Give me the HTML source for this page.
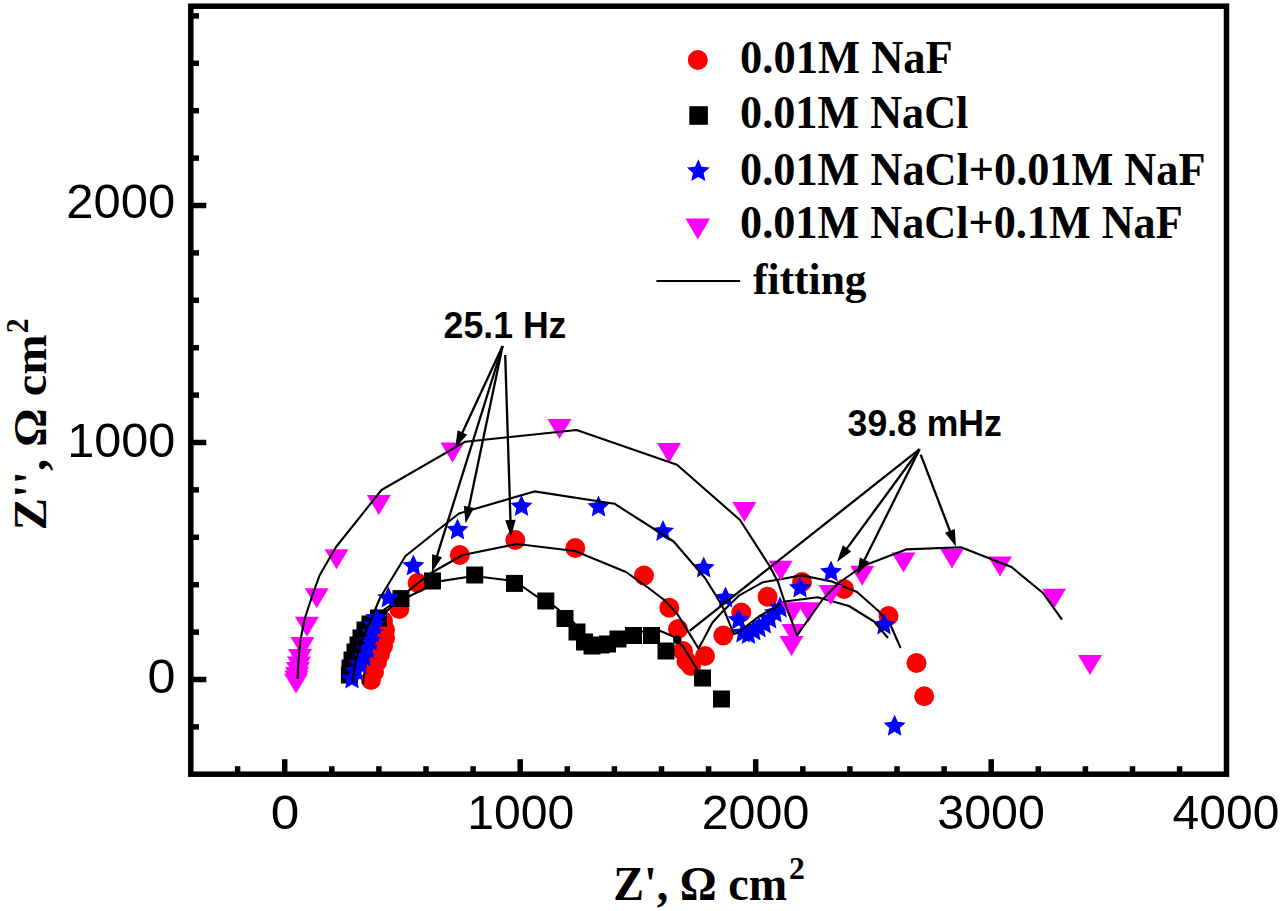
<!DOCTYPE html>
<html><head><meta charset="utf-8"><title>Nyquist plot</title><style>html,body{margin:0;padding:0;background:#fff;overflow:hidden}svg{display:block}</style></head><body>
<svg width="1280" height="911" viewBox="0 0 1280 911">
<rect x="0" y="0" width="1280" height="911" fill="#fff"/>
<g fill="#ff0000"><circle cx="371" cy="680" r="10"/><circle cx="374" cy="672" r="10"/><circle cx="377" cy="662" r="10"/><circle cx="380" cy="654" r="10"/><circle cx="383" cy="646" r="10"/><circle cx="385" cy="638" r="10"/><circle cx="385" cy="630" r="10"/><circle cx="383" cy="621" r="10"/><circle cx="399.3" cy="609" r="10"/><circle cx="417.6" cy="583" r="10"/><circle cx="459.8" cy="555" r="10"/><circle cx="515.3" cy="540" r="10"/><circle cx="575.3" cy="548" r="10"/><circle cx="644" cy="575.5" r="10"/><circle cx="669.3" cy="607.7" r="10"/><circle cx="678" cy="629" r="10"/><circle cx="683" cy="651" r="10"/><circle cx="686.5" cy="661" r="10"/><circle cx="691" cy="666" r="10"/><circle cx="705" cy="656" r="10"/><circle cx="723.3" cy="635.5" r="10"/><circle cx="741.3" cy="612.5" r="10"/><circle cx="767.6" cy="596.7" r="10"/><circle cx="802" cy="582" r="10"/><circle cx="844" cy="589" r="10"/><circle cx="888.5" cy="616" r="10"/><circle cx="916.5" cy="663" r="10"/><circle cx="924.2" cy="696.3" r="10"/></g>
<polyline fill="none" stroke="#000" stroke-width="2.1" stroke-linejoin="round" points="363,684 365,668 369,650 375,632 385,613 403.5,594.6 431,573 462.8,555 517,544 575,551 626,572 648.5,588 664.3,600 677.5,614.3 688,631.4 698.5,648.5 704.4,637.7 712.3,622.8 721.2,613 739.3,595.3 763,582.2 778.8,579.5 801.5,575.4 832,581.5 857,592 878.5,611 891,626 900.6,648"/>
<g fill="#000"><rect x="340.9" y="666.5" width="17" height="17"/><rect x="341.5" y="659.5" width="17" height="17"/><rect x="343.5" y="651.5" width="17" height="17"/><rect x="346.5" y="643.5" width="17" height="17"/><rect x="349.5" y="636.5" width="17" height="17"/><rect x="352.5" y="629.5" width="17" height="17"/><rect x="356.5" y="621.5" width="17" height="17"/><rect x="361.5" y="615.5" width="17" height="17"/><rect x="370" y="609.5" width="17" height="17"/><rect x="392.5" y="590.1" width="17" height="17"/><rect x="424" y="572.5" width="17" height="17"/><rect x="466.2" y="566.5" width="17" height="17"/><rect x="506" y="574.9" width="17" height="17"/><rect x="537.3" y="592.5" width="17" height="17"/><rect x="556.5" y="610" width="17" height="17"/><rect x="568.5" y="623.5" width="17" height="17"/><rect x="576" y="633.5" width="17" height="17"/><rect x="583.5" y="637.5" width="17" height="17"/><rect x="592.5" y="636.5" width="17" height="17"/><rect x="599" y="635.5" width="17" height="17"/><rect x="609.5" y="630.5" width="17" height="17"/><rect x="625" y="627" width="17" height="17"/><rect x="643" y="627" width="17" height="17"/><rect x="657.5" y="642.5" width="17" height="17"/><rect x="694" y="669.5" width="17" height="17"/><rect x="713" y="690.5" width="17" height="17"/></g>
<polyline fill="none" stroke="#000" stroke-width="2.1" stroke-linejoin="round" points="350,680 353,662 358,645 366,628 378,614 392,604 407.4,597.3 439,581.4 474,576 514.5,581 537,596.6 556,607.5 573,621.6 585,637 600,644 620,638 640,632 657,629.5 673.8,636.7 683.7,647.5 694.6,665.3 697,669"/>
<g fill="#0000ff"><polygon points="352,667.4 355.23,674.55 363.03,675.42 357.23,680.7 358.82,688.38 352,684.5 345.18,688.38 346.77,680.7 340.97,675.42 348.77,674.55"/><polygon points="356,659.4 359.23,666.55 367.03,667.42 361.23,672.7 362.82,680.38 356,676.5 349.18,680.38 350.77,672.7 344.97,667.42 352.77,666.55"/><polygon points="360,652.4 363.23,659.55 371.03,660.42 365.23,665.7 366.82,673.38 360,669.5 353.18,673.38 354.77,665.7 348.97,660.42 356.77,659.55"/><polygon points="364,645.4 367.23,652.55 375.03,653.42 369.23,658.7 370.82,666.38 364,662.5 357.18,666.38 358.77,658.7 352.97,653.42 360.77,652.55"/><polygon points="367,637.4 370.23,644.55 378.03,645.42 372.23,650.7 373.82,658.38 367,654.5 360.18,658.38 361.77,650.7 355.97,645.42 363.77,644.55"/><polygon points="370,629.4 373.23,636.55 381.03,637.42 375.23,642.7 376.82,650.38 370,646.5 363.18,650.38 364.77,642.7 358.97,637.42 366.77,636.55"/><polygon points="372,621.4 375.23,628.55 383.03,629.42 377.23,634.7 378.82,642.38 372,638.5 365.18,642.38 366.77,634.7 360.97,629.42 368.77,628.55"/><polygon points="374,613.4 377.23,620.55 385.03,621.42 379.23,626.7 380.82,634.38 374,630.5 367.18,634.38 368.77,626.7 362.97,621.42 370.77,620.55"/><polygon points="376,606.4 379.23,613.55 387.03,614.42 381.23,619.7 382.82,627.38 376,623.5 369.18,627.38 370.77,619.7 364.97,614.42 372.77,613.55"/><polygon points="388.3,586.4 391.53,593.55 399.33,594.42 393.53,599.7 395.12,607.38 388.3,603.5 381.48,607.38 383.07,599.7 377.27,594.42 385.07,593.55"/><polygon points="413.4,554.4 416.63,561.55 424.43,562.42 418.63,567.7 420.22,575.38 413.4,571.5 406.58,575.38 408.17,567.7 402.37,562.42 410.17,561.55"/><polygon points="457.5,518.4 460.73,525.55 468.53,526.42 462.73,531.7 464.32,539.38 457.5,535.5 450.68,539.38 452.27,531.7 446.47,526.42 454.27,525.55"/><polygon points="521.5,494.9 524.73,502.05 532.53,502.92 526.73,508.2 528.32,515.88 521.5,512 514.68,515.88 516.27,508.2 510.47,502.92 518.27,502.05"/><polygon points="598.5,495.4 601.73,502.55 609.53,503.42 603.73,508.7 605.32,516.38 598.5,512.5 591.68,516.38 593.27,508.7 587.47,503.42 595.27,502.55"/><polygon points="663,519.9 666.23,527.05 674.03,527.92 668.23,533.2 669.82,540.88 663,537 656.18,540.88 657.77,533.2 651.97,527.92 659.77,527.05"/><polygon points="703.7,556.4 706.93,563.55 714.73,564.42 708.93,569.7 710.52,577.38 703.7,573.5 696.88,577.38 698.47,569.7 692.67,564.42 700.47,563.55"/><polygon points="725.5,586.4 728.73,593.55 736.53,594.42 730.73,599.7 732.32,607.38 725.5,603.5 718.68,607.38 720.27,599.7 714.47,594.42 722.27,593.55"/><polygon points="738.6,608.4 741.83,615.55 749.63,616.42 743.83,621.7 745.42,629.38 738.6,625.5 731.78,629.38 733.37,621.7 727.57,616.42 735.37,615.55"/><polygon points="743,621.4 746.23,628.55 754.03,629.42 748.23,634.7 749.82,642.38 743,638.5 736.18,642.38 737.77,634.7 731.97,629.42 739.77,628.55"/><polygon points="748.5,622.9 751.73,630.05 759.53,630.92 753.73,636.2 755.32,643.88 748.5,640 741.68,643.88 743.27,636.2 737.47,630.92 745.27,630.05"/><polygon points="753.8,619.4 757.03,626.55 764.83,627.42 759.03,632.7 760.62,640.38 753.8,636.5 746.98,640.38 748.57,632.7 742.77,627.42 750.57,626.55"/><polygon points="759,616.4 762.23,623.55 770.03,624.42 764.23,629.7 765.82,637.38 759,633.5 752.18,637.38 753.77,629.7 747.97,624.42 755.77,623.55"/><polygon points="764.3,612.4 767.53,619.55 775.33,620.42 769.53,625.7 771.12,633.38 764.3,629.5 757.48,633.38 759.07,625.7 753.27,620.42 761.07,619.55"/><polygon points="769.6,607.4 772.83,614.55 780.63,615.42 774.83,620.7 776.42,628.38 769.6,624.5 762.78,628.38 764.37,620.7 758.57,615.42 766.37,614.55"/><polygon points="775,601.4 778.23,608.55 786.03,609.42 780.23,614.7 781.82,622.38 775,618.5 768.18,622.38 769.77,614.7 763.97,609.42 771.77,608.55"/><polygon points="780,596.4 783.23,603.55 791.03,604.42 785.23,609.7 786.82,617.38 780,613.5 773.18,617.38 774.77,609.7 768.97,604.42 776.77,603.55"/><polygon points="800,576.4 803.23,583.55 811.03,584.42 805.23,589.7 806.82,597.38 800,593.5 793.18,597.38 794.77,589.7 788.97,584.42 796.77,583.55"/><polygon points="831,560.4 834.23,567.55 842.03,568.42 836.23,573.7 837.82,581.38 831,577.5 824.18,581.38 825.77,573.7 819.97,568.42 827.77,567.55"/><polygon points="884,613.4 887.23,620.55 895.03,621.42 889.23,626.7 890.82,634.38 884,630.5 877.18,634.38 878.77,626.7 872.97,621.42 880.77,620.55"/><polygon points="894.6,714.7 897.83,721.85 905.63,722.72 899.83,728 901.42,735.68 894.6,731.8 887.78,735.68 889.37,728 883.57,722.72 891.37,721.85"/></g>
<polyline fill="none" stroke="#000" stroke-width="2.1" stroke-linejoin="round" points="352,683 356,660 362,640 370,622 380,598 405.5,556 445.6,524 459,513.5 534.4,491.4 614.4,503.7 673.7,541.5 705,578 715.6,595 723.5,608.5 728.7,621.7 734,634 738,632.5 759,616.4 785,601.5 817.6,597.3 849,606 874,621.5 888,638"/>
<g fill="#ff00ff"><polygon points="290.5,637 314.5,637 302.5,657"/><polygon points="288,649 312,649 300,669"/><polygon points="287,656.5 311,656.5 299,676.5"/><polygon points="286,662 310,662 298,682"/><polygon points="285,667 309,667 297,687"/><polygon points="284.5,670.5 308.5,670.5 296.5,690.5"/><polygon points="284,673.5 308,673.5 296,693.5"/><polygon points="294.9,616.8 318.9,616.8 306.9,636.8"/><polygon points="304.7,588.2 328.7,588.2 316.7,608.2"/><polygon points="324.5,549.2 348.5,549.2 336.5,569.2"/><polygon points="366.8,495 390.8,495 378.8,515"/><polygon points="440.4,442.5 464.4,442.5 452.4,462.5"/><polygon points="547.5,419 571.5,419 559.5,439"/><polygon points="657,443 681,443 669,463"/><polygon points="732.4,502 756.4,502 744.4,522"/><polygon points="768.7,560.7 792.7,560.7 780.7,580.7"/><polygon points="780.5,602.3 804.5,602.3 792.5,622.3"/><polygon points="796.5,602.3 820.5,602.3 808.5,622.3"/><polygon points="781.5,624 805.5,624 793.5,644"/><polygon points="779.5,636 803.5,636 791.5,656"/><polygon points="818.7,585 842.7,585 830.7,605"/><polygon points="850.2,565.7 874.2,565.7 862.2,585.7"/><polygon points="891.5,552.5 915.5,552.5 903.5,572.5"/><polygon points="940,548.4 964,548.4 952,568.4"/><polygon points="988,556.5 1012,556.5 1000,576.5"/><polygon points="1042,588.8 1066,588.8 1054,608.8"/><polygon points="1078,655 1102,655 1090,675"/></g>
<polyline fill="none" stroke="#000" stroke-width="2.1" stroke-linejoin="round" points="297.5,679 298.5,660 300.5,640 304.6,619 312.5,595 319.5,575.5 336,547 381.5,490 465.3,441.7 576.6,430 677,464.7 740,520 769.6,566 778,582 785,603 797,635.5 809,618.5 823,599 838.5,583 863,566 906,549.4 961,547.2 1011.4,567 1043.3,593.3 1062,619.6"/>
<g stroke="#000" stroke-width="2.3" fill="#000"><line x1="502.6" y1="346" x2="461.52" y2="434.4"/><polygon stroke="none" points="455.2,448 457.6,430.37 467.13,434.8"/><line x1="502.6" y1="346" x2="436.47" y2="557.68"/><polygon stroke="none" points="432,572 432.06,554.21 442.08,557.34"/><line x1="502.6" y1="346" x2="468.57" y2="508.82"/><polygon stroke="none" points="465.5,523.5 463.84,505.79 474.12,507.93"/><line x1="505.2" y1="355" x2="510.52" y2="522.01"/><polygon stroke="none" points="511,537 505.21,520.18 515.71,519.84"/><line x1="919.6" y1="449.2" x2="845.86" y2="549.9"/><polygon stroke="none" points="837,562 842.81,545.18 851.28,551.39"/><line x1="919.6" y1="449.2" x2="863.68" y2="561.57"/><polygon stroke="none" points="857,575 859.87,557.44 869.27,562.12"/><line x1="920.7" y1="454.6" x2="950.64" y2="532.79"/><polygon stroke="none" points="956,546.8 945.02,532.8 954.82,529.05"/><line x1="919.6" y1="449.2" x2="689.6" y2="630.8"/></g>
<circle cx="677.3" cy="639.7" r="4.3" fill="#000"/>
<rect x="190.8" y="6.2" width="1035.7" height="768" fill="none" stroke="#000" stroke-width="5.5"/>
<g stroke="#000" stroke-width="5.5"><line x1="190.8" y1="726.9" x2="199" y2="726.9"/><line x1="190.8" y1="679.5" x2="206.3" y2="679.5"/><line x1="190.8" y1="632.1" x2="199" y2="632.1"/><line x1="190.8" y1="584.7" x2="199" y2="584.7"/><line x1="190.8" y1="537.3" x2="199" y2="537.3"/><line x1="190.8" y1="489.9" x2="199" y2="489.9"/><line x1="190.8" y1="442.5" x2="206.3" y2="442.5"/><line x1="190.8" y1="395.1" x2="199" y2="395.1"/><line x1="190.8" y1="347.7" x2="199" y2="347.7"/><line x1="190.8" y1="300.3" x2="199" y2="300.3"/><line x1="190.8" y1="252.9" x2="199" y2="252.9"/><line x1="190.8" y1="205.5" x2="206.3" y2="205.5"/><line x1="190.8" y1="158.1" x2="199" y2="158.1"/><line x1="190.8" y1="110.7" x2="199" y2="110.7"/><line x1="190.8" y1="63.3" x2="199" y2="63.3"/><line x1="190.8" y1="15.9" x2="199" y2="15.9"/><line x1="237.6" y1="774.2" x2="237.6" y2="766.2"/><line x1="284.7" y1="774.2" x2="284.7" y2="759.2"/><line x1="331.8" y1="774.2" x2="331.8" y2="766.2"/><line x1="378.9" y1="774.2" x2="378.9" y2="766.2"/><line x1="426" y1="774.2" x2="426" y2="766.2"/><line x1="473.1" y1="774.2" x2="473.1" y2="766.2"/><line x1="520.2" y1="774.2" x2="520.2" y2="759.2"/><line x1="567.3" y1="774.2" x2="567.3" y2="766.2"/><line x1="614.4" y1="774.2" x2="614.4" y2="766.2"/><line x1="661.5" y1="774.2" x2="661.5" y2="766.2"/><line x1="708.6" y1="774.2" x2="708.6" y2="766.2"/><line x1="755.7" y1="774.2" x2="755.7" y2="759.2"/><line x1="802.8" y1="774.2" x2="802.8" y2="766.2"/><line x1="849.9" y1="774.2" x2="849.9" y2="766.2"/><line x1="897" y1="774.2" x2="897" y2="766.2"/><line x1="944.1" y1="774.2" x2="944.1" y2="766.2"/><line x1="991.2" y1="774.2" x2="991.2" y2="759.2"/><line x1="1038.3" y1="774.2" x2="1038.3" y2="766.2"/><line x1="1085.4" y1="774.2" x2="1085.4" y2="766.2"/><line x1="1132.5" y1="774.2" x2="1132.5" y2="766.2"/><line x1="1179.6" y1="774.2" x2="1179.6" y2="766.2"/></g>
<text transform="matrix(1.0194 0 0 1.0061 66.36 218.40)" style="font-family:&quot;Liberation Sans&quot;,sans-serif;font-size:48px;font-variant-ligatures:none">2000</text>
<text transform="matrix(1.0114 0 0 1.0076 67.20 457.00)" style="font-family:&quot;Liberation Sans&quot;,sans-serif;font-size:48px;font-variant-ligatures:none">1000</text>
<text transform="matrix(1.0478 0 0 0.9970 147.40 693.10)" style="font-family:&quot;Liberation Sans&quot;,sans-serif;font-size:48px;font-variant-ligatures:none">0</text>
<text transform="matrix(1.0696 0 0 0.9939 270.76 829.20)" style="font-family:&quot;Liberation Sans&quot;,sans-serif;font-size:48px;font-variant-ligatures:none">0</text>
<text transform="matrix(1.0025 0 0 1.0091 467.24 829.10)" style="font-family:&quot;Liberation Sans&quot;,sans-serif;font-size:48px;font-variant-ligatures:none">1000</text>
<text transform="matrix(1.0087 0 0 1.0121 701.68 829.30)" style="font-family:&quot;Liberation Sans&quot;,sans-serif;font-size:48px;font-variant-ligatures:none">2000</text>
<text transform="matrix(1.0087 0 0 1.0121 937.28 829.30)" style="font-family:&quot;Liberation Sans&quot;,sans-serif;font-size:48px;font-variant-ligatures:none">3000</text>
<text transform="matrix(1.0000 0 0 1.0091 1172.60 829.10)" style="font-family:&quot;Liberation Sans&quot;,sans-serif;font-size:48px;font-variant-ligatures:none">4000</text>
<text transform="matrix(0.9766 0 0 1.0100 443.62 338.30)" style="font-family:&quot;Liberation Sans&quot;,sans-serif;font-size:36.5px;font-weight:bold;font-variant-ligatures:none">25.1 Hz</text>
<text transform="matrix(0.9750 0 0 1.0100 847.62 435.90)" style="font-family:&quot;Liberation Sans&quot;,sans-serif;font-size:36.5px;font-weight:bold;font-variant-ligatures:none">39.8 mHz</text>
<text transform="matrix(0.9220 0 0 0.9788 613.26 899.80)" style="font-family:&quot;Liberation Serif&quot;,serif;font-size:50px;font-weight:bold;font-variant-ligatures:none">Z&#39;, &#937; cm</text>
<text transform="matrix(1.0231 0 0 1.0238 788.88 879.30)" style="font-family:&quot;Liberation Serif&quot;,serif;font-size:31px;font-weight:bold;font-variant-ligatures:none">2</text>
<text transform="matrix(1.0007 0 0 1.0207 740.10 73.40)" style="font-family:&quot;Liberation Serif&quot;,serif;font-size:44.5px;font-weight:bold;font-variant-ligatures:none">0.01M NaF</text>
<text transform="matrix(0.9930 0 0 1.0207 740.11 128.30)" style="font-family:&quot;Liberation Serif&quot;,serif;font-size:44.5px;font-weight:bold;font-variant-ligatures:none">0.01M NaCl</text>
<text transform="matrix(0.9949 0 0 1.0207 740.11 184.60)" style="font-family:&quot;Liberation Serif&quot;,serif;font-size:44.5px;font-weight:bold;font-variant-ligatures:none">0.01M NaCl+0.01M NaF</text>
<text transform="matrix(0.9936 0 0 1.0207 740.11 238.00)" style="font-family:&quot;Liberation Serif&quot;,serif;font-size:44.5px;font-weight:bold;font-variant-ligatures:none">0.01M NaCl+0.1M NaF</text>
<text transform="matrix(0.9767 0 0 1.0000 753.10 293.60)" style="font-family:&quot;Liberation Serif&quot;,serif;font-size:44.5px;font-weight:bold;font-variant-ligatures:none">fitting</text>
<g transform="translate(45.50 528.30) rotate(-90)"><text transform="matrix(0.9670 0 0 0.9303 -1.93 0.00)" style="font-family:&quot;Liberation Serif&quot;,serif;font-size:50px;font-weight:bold">Z&#39;&#39;, &#937; cm</text></g>
<g transform="translate(27.70 332.30) rotate(-90)"><text transform="matrix(0.9615 0 0 1.0381 -0.96 0.00)" style="font-family:&quot;Liberation Serif&quot;,serif;font-size:31px;font-weight:bold">2</text></g>
<circle cx="697.8" cy="60" r="10" fill="#ff0000"/><rect x="689.3" y="106.2" width="18.6" height="18.6" fill="#000"/><polygon fill="#0000ff" points="698.3,159.3 701.59,166.77 709.71,167.59 703.63,173.03 705.35,181.01 698.3,176.9 691.25,181.01 692.97,173.03 686.89,167.59 695.01,166.77"/><polygon fill="#ff00ff" points="685.55,218.4 710.05,218.4 697.8,239.4"/><line x1="656.4" y1="281" x2="740.2" y2="281" stroke="#000" stroke-width="2.2"/>
</svg>
</body></html>
